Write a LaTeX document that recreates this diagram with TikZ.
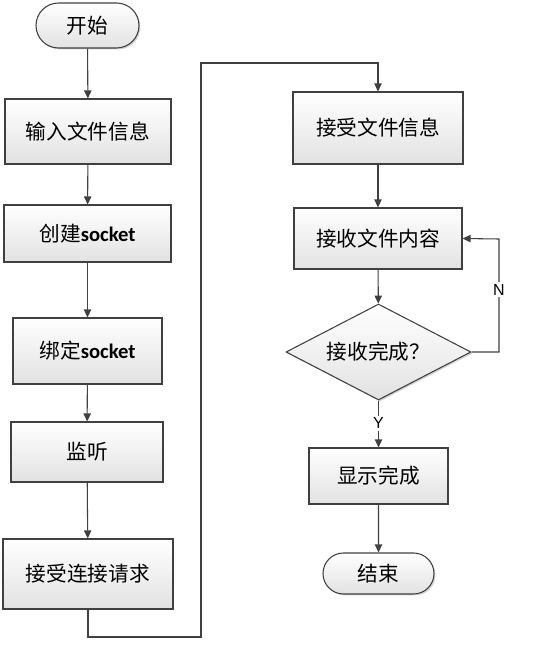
\documentclass[tikz,border=0pt]{standalone}
\usepackage{fontspec}
\newfontfamily\cjk{Noto Sans CJK SC}
\newfontfamily\latfont{Carlito}
\newfontfamily\labfont{Liberation Sans}
\usetikzlibrary{arrows.meta,shapes.geometric,shapes.misc,shadows}
\definecolor{flowline}{RGB}{64,64,64}
\definecolor{flowfill}{RGB}{226,226,226}
\tikzset{
  flow base/.style={
    draw=flowline,
    line width=0.8pt,
    top color=white,
    bottom color=flowfill,
    drop shadow={shadow xshift=1.1pt,shadow yshift=-1.1pt,fill=black,opacity=0.18},
    inner sep=0pt,
    font=\cjk\fontsize{15.5}{18}\selectfont,
  },
  flow box/.style={flow base, rectangle},
  flow term/.style={flow base, rounded rectangle},
  flow decide/.style={flow base, diamond, shape aspect=1.93},
  flow arrow/.style={
    -{Triangle[length=6pt,width=5.5pt]},
    line width=0.8pt,
    draw=flowline,
  },
  flow label/.style={font=\labfont\fontsize{12}{14}\selectfont, fill=white, inner sep=1.5pt},
}
\newcommand{\sockword}{{\latfont\bfseries socket}}

\begin{document}
\begin{tikzpicture}[x=0.75pt,y=-0.75pt]
  \useasboundingbox (0,0) rectangle (555,650);
  % left column: server side
  \node[flow term, minimum width=77.25pt, minimum height=33.75pt] (start) at (87.5,25.5) {开始};
  \node[flow box, minimum width=124.5pt, minimum height=48.75pt] (input) at (88,131.5) {输入文件信息};
  \node[flow box, minimum width=125.25pt, minimum height=42.75pt] (create) at (87.5,233.5) {创建\sockword};
  \node[flow box, minimum width=111.75pt, minimum height=49.5pt] (bind) at (87.5,351) {绑定\sockword};
  \node[flow box, minimum width=114pt, minimum height=45pt] (listen) at (87,452) {监听};
  \node[flow box, minimum width=127.5pt, minimum height=52.5pt] (accept) at (88,574) {接受连接请求};
  % right column: receiving side
  \node[flow box, minimum width=127.5pt, minimum height=54pt] (info) at (378,128) {接受文件信息};
  \node[flow box, minimum width=126pt, minimum height=45.75pt] (recv) at (378,238.5) {接收文件内容};
  \node[flow decide, minimum width=138.75pt, minimum height=72pt] (done) at (378.5,352) {接收完成？};
  \node[flow box, minimum width=104.25pt, minimum height=42pt] (show) at (378.5,476) {显示完成};
  \node[flow term, minimum width=83.25pt, minimum height=30.75pt] (stop) at (378.5,573.5) {结束};

  \coordinate (c1) at (88,637);
  \coordinate (c2) at (201,637);
  \coordinate (c3) at (201,63);
  \coordinate (c4) at (378,63);
  \coordinate (n1) at (499,352);
  \coordinate (n2) at (499,239);

  \draw[flow arrow] (start) -- (input);
  \draw[flow arrow] (input) -- (create);
  \draw[flow arrow] (create) -- (bind);
  \draw[flow arrow] (bind) -- (listen);
  \draw[flow arrow] (listen) -- (accept);
  \draw[flow arrow] (accept.south) -- (c1) -- (c2) -- (c3) -- (c4) -- (info.north);
  \draw[flow arrow] (info) -- (recv);
  \draw[flow arrow] (recv) -- (done);
  \draw[flow arrow] (done) -- node[flow label, pos=0.48] (ylab) {Y} (show);
  \draw[flow arrow] (show) -- (stop);
  \draw[flow arrow] (done.east) -- (n1) -- node[flow label, pos=0.55] (nlab) {N} (n2) -- (recv.east);
\end{tikzpicture}
\end{document}
